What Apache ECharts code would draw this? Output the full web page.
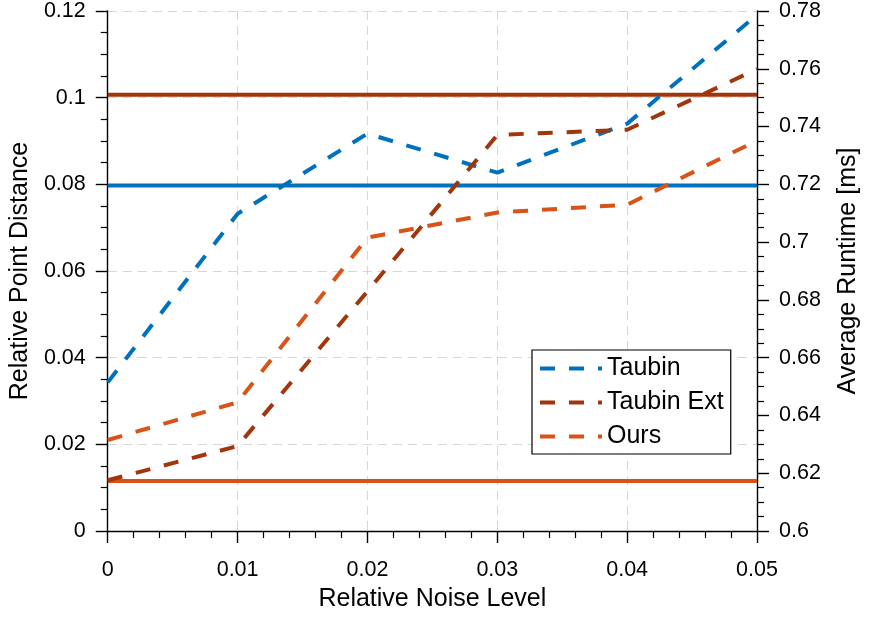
<!DOCTYPE html>
<html>
<head>
<meta charset="utf-8">
<script src="https://cdn.jsdelivr.net/npm/echarts@6/dist/echarts.min.js"></script>
<style>html,body{margin:0;padding:0;background:#fff;}#c{width:869px;height:619px;}</style>
</head>
<body>
<div id="c"></div>
<script>
var noiseLevels = [0, 0.01, 0.02, 0.03, 0.04, 0.05];
var distTaubin = [0.0343, 0.0732, 0.0917, 0.0827, 0.0940, 0.1191];
var distTaubinExt = [0.0117, 0.0196, 0.0553, 0.0914, 0.0926, 0.1066];
var distOurs = [0.0210, 0.0297, 0.0677, 0.0735, 0.0753, 0.0901];
var runtimeX = [0, 0.05];
var runtimeTaubin = [0.7196, 0.7196];
var runtimeTaubinExt = [0.7510, 0.7510];
var runtimeOurs = [0.6173, 0.6173];
var seriesNames = ['Taubin', 'Taubin Ext', 'Ours'];

var colors = ['#0072BD', '#A1350B', '#D95319'];
var FONT = '"Liberation Sans", Arial, Helvetica, sans-serif';

function pairs(xs, ys) { return xs.map(function (x, i) { return [x, ys[i]]; }); }

var gridSplit = { show: true, lineStyle: { color: '#d6d6d6', width: 1, type: [9, 6] } };
var axLine = { show: true, onZero: false, lineStyle: { color: '#000', width: 1.4 } };
var tick = { show: true, inside: false, length: 12, lineStyle: { color: '#000', width: 1.4 } };
var minor = function (n) { return { show: true, splitNumber: n, length: 7, lineStyle: { color: '#000', width: 1.2 } }; };
var lbl = function (m) { return { color: '#000', fontSize: 21.5, fontFamily: FONT, margin: m }; };
var nameStyle = { color: '#000', fontSize: 25, fontFamily: FONT };

function runtimeSeries(name, ys, c) {
  return { name: name, type: 'line', yAxisIndex: 1, data: pairs(runtimeX, ys), showSymbol: false, symbol: 'none',
    lineStyle: { color: c, width: 4, type: 'solid' }, itemStyle: { color: c }, z: 2, silent: true, animation: false };
}
function distSeries(name, ys, c) {
  return { name: name, type: 'line', yAxisIndex: 0, data: pairs(noiseLevels, ys), showSymbol: false, symbol: 'none',
    lineStyle: { color: c, width: 4, type: [15, 14], cap: 'butt' }, itemStyle: { color: c }, z: 3, animation: false };
}

var chart = echarts.init(document.getElementById('c'));
chart.setOption({
  backgroundColor: '#fff',
  animation: false,
  grid: { left: 104, top: 10, right: 110, bottom: 88, containLabel: false },
  legend: {
    data: seriesNames,
    orient: 'vertical',
    left: 532, top: 350,
    padding: [6, 7, 5, 6],
    itemGap: 9,
    itemWidth: 62, itemHeight: 14,
    backgroundColor: '#fff',
    borderColor: '#000', borderWidth: 1.2, borderRadius: 0,
    textStyle: { color: '#000', fontSize: 25, fontFamily: FONT, padding: [0, 0, 0, 0] },
    itemStyle: { opacity: 0 },
    lineStyle: { width: 4, opacity: 1 }
  },
  xAxis: {
    type: 'value', min: 0, max: 0.05, interval: 0.01,
    name: 'Relative Noise Level', nameLocation: 'middle', nameGap: 56, nameTextStyle: nameStyle,
    axisLine: axLine, axisTick: tick, minorTick: minor(5), splitLine: gridSplit,
    axisLabel: lbl(28)
  },
  yAxis: [{
    type: 'value', min: 0, max: 0.12, interval: 0.02, position: 'left',
    name: 'Relative Point Distance', nameLocation: 'middle', nameGap: 73, nameRotate: 90, nameTextStyle: nameStyle,
    axisLine: axLine, axisTick: tick, minorTick: minor(4), splitLine: gridSplit,
    axisLabel: lbl(22)
  }, {
    type: 'value', min: 0.6, max: 0.78, interval: 0.02, position: 'right',
    name: 'Average Runtime [ms]', nameLocation: 'middle', nameGap: 79, nameRotate: 90, nameTextStyle: nameStyle,
    axisLine: axLine, axisTick: tick, minorTick: minor(4), splitLine: { show: false },
    axisLabel: lbl(22)
  }],
  series: [
    runtimeSeries('Taubin Runtime', runtimeTaubin, colors[0]),
    runtimeSeries('Taubin Ext Runtime', runtimeTaubinExt, colors[1]),
    runtimeSeries('Ours Runtime', runtimeOurs, colors[2]),
    distSeries(seriesNames[0], distTaubin, colors[0]),
    distSeries(seriesNames[1], distTaubinExt, colors[1]),
    distSeries(seriesNames[2], distOurs, colors[2])
  ]
});
</script>
</body>
</html>
